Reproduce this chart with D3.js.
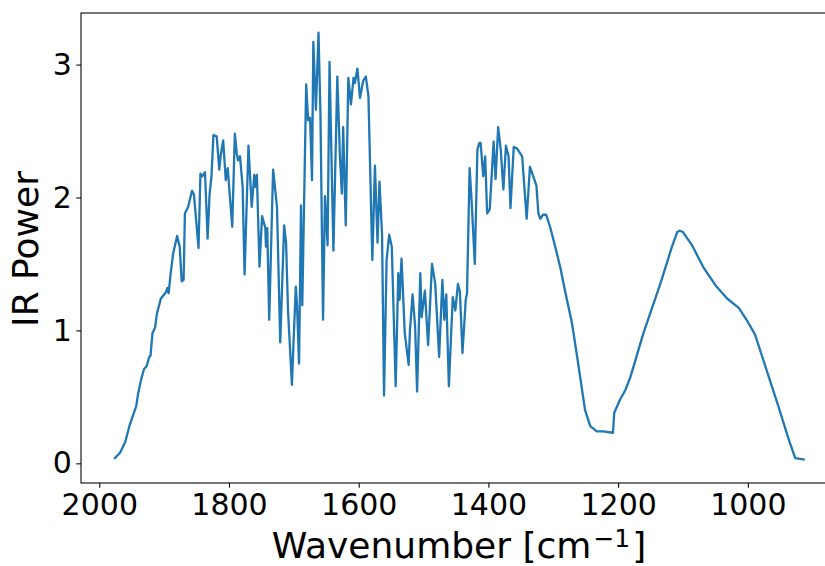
<!DOCTYPE html>
<html>
<head>
<meta charset="utf-8">
<script src="https://cdn.jsdelivr.net/npm/d3@7"></script>
<style>
  html, body { margin: 0; padding: 0; background: #fff; }
  svg { display: block; }
  text { font-family: "DejaVu Sans", sans-serif; fill: #000; }
</style>
</head>
<body>
<script>
// ---- data ----
const wavenumber = [
  1976,1968,1960,1953,1948,1943,1940,1935,1931,1927,1923,1921,1918,1914,1911,1905,1900,1897,1895,1893,
  1890,1886,1880,1876,1873,1870,1868,1863,1857,1854,1847,1844,1841,1837,1833,1830,1827,1824,1819,1815,
  1813,1809,1805,1802,1795,1791,1788,1786,1783,1779,1776,1770,1765,1761,1759,1757,1753,1749,1744,1743,
  1741,1738,1732,1726,1721,1715,1712,1709,1703,1701,1697,1695,1692,1689,1687,1681,1678,1675,1672,1670,
  1666,1662,1659,1655,1652,1648,1645,1639,1633,1629,1626,1624,1620,1616,1612,1608,1606,1602,1598,1593,
  1589,1585,1579,1575,1571,1568,1564,1561,1557,1553,1549,1543,1539,1537,1534,1529,1523,1521,1517,1513,
  1510,1505,1503,1498,1493,1487,1482,1476,1471,1468,1465,1461,1455,1451,1447,1444,1440,1435,1433,1429,
  1426,1421,1417,1414,1412,1408,1405,1402,1398,1392,1389,1385,1381,1377,1373,1369,1366,1361,1356,1348,
  1341,1336,1331,1326,1323,1320,1316,1311,1305,1297,1289,1282,1271,1261,1251,1243,1233,1223,1208,1206,
  1197,1189,1181,1161,1135,1117,1109,1105,1100,1086,1068,1050,1032,1014,1002,989,971,953,937,927,914
];
const irPower = [
  0.04,0.08,0.16,0.29,0.36,0.43,0.53,0.64,0.71,0.73,0.80,0.81,0.98,1.02,1.13,1.24,1.27,1.29,1.32,1.28,
  1.43,1.58,1.71,1.63,1.37,1.38,1.88,1.93,2.05,2.02,1.62,2.18,2.16,2.19,1.69,2.02,2.16,2.47,2.46,2.21,
  2.31,2.43,2.13,2.22,1.78,2.48,2.33,2.28,2.31,2.08,1.42,2.39,1.93,2.17,2.08,2.17,1.48,1.86,1.77,1.63,
  1.77,1.08,2.21,1.93,0.91,1.79,1.66,1.15,0.59,0.85,1.33,1.18,0.75,1.94,1.19,2.85,2.58,2.60,2.13,3.17,
  2.66,3.24,2.63,1.08,2.01,1.64,3.02,1.60,2.91,2.31,2.03,2.53,1.79,2.90,2.70,2.90,2.86,2.97,2.75,2.88,
  2.91,2.76,1.53,2.24,1.66,2.12,1.72,0.51,1.53,1.72,1.63,0.58,1.43,1.23,1.54,0.98,0.74,1.00,1.27,1.03,
  0.54,1.43,1.10,1.30,0.89,1.50,1.35,0.80,1.38,1.08,1.27,0.58,1.25,1.15,1.35,1.29,0.83,1.23,1.28,2.22,
  1.98,1.50,2.36,2.41,2.41,2.16,2.31,1.88,1.91,2.42,2.14,2.53,2.36,2.06,2.39,2.31,1.92,2.38,2.37,2.31,
  1.84,2.23,2.16,2.09,1.88,1.84,1.87,1.87,1.78,1.63,1.47,1.30,1.05,0.73,0.40,0.28,0.24,0.24,0.23,0.38,
  0.48,0.55,0.65,0.98,1.35,1.63,1.74,1.75,1.74,1.64,1.47,1.34,1.24,1.17,1.08,0.97,0.70,0.43,0.18,0.04,0.03
];
const xTicks = [2000, 1800, 1600, 1400, 1200, 1000];
const yTicks = [0, 1, 2, 3];
const xTitle = "Wavenumber [cm";
const xTitleSup = "\u22121";
const yTitle = "IR Power";

(function draw() {
  const W = 825, H = 566;
  const pL = 81, pT = 13, pR = 838, pB = 483;

  const svg = d3.select("body").append("svg").attr("width", W).attr("height", H);

  const x = d3.scaleLinear().domain([2028.2, 861]).range([pL, pR]);
  const y = d3.scaleLinear().domain([-0.148, 3.388]).range([pB, pT]);

  const xAxis = d3.axisBottom(x).tickValues(xTicks).tickFormat(d3.format("d")).tickSizeOuter(0).tickSize(4.7).tickPadding(5.5);
  const yAxis = d3.axisLeft(y).tickValues(yTicks).tickFormat(d3.format("d")).tickSizeOuter(0).tickSize(4.7).tickPadding(4.5);

  const gx = svg.append("g").attr("transform", `translate(0,${pB})`).call(xAxis);
  const gy = svg.append("g").attr("transform", `translate(${pL},0)`).call(yAxis);
  [gx, gy].forEach(g => {
    g.select(".domain").remove();
    g.selectAll(".tick line").attr("stroke", "#000").attr("stroke-width", 1.07);
    g.selectAll(".tick text").attr("font-size", 30).attr("font-family", "DejaVu Sans").attr("fill", "#000");
  });

  svg.append("rect")
    .attr("x", pL).attr("y", pT)
    .attr("width", pR - pL).attr("height", pB - pT)
    .attr("fill", "none").attr("stroke", "#000").attr("stroke-width", 1.07);

  const line = d3.line().x((d, i) => x(wavenumber[i])).y((d, i) => y(irPower[i]));
  svg.append("path")
    .datum(irPower)
    .attr("d", line)
    .attr("fill", "none")
    .attr("stroke", "#1f77b4")
    .attr("stroke-width", 2.3)
    .attr("stroke-linejoin", "round")
    .attr("stroke-linecap", "square");

  const xt = svg.append("text")
    .attr("x", 459).attr("y", 557.5)
    .attr("text-anchor", "middle").attr("font-size", 36);
  xt.append("tspan").text(xTitle);
  xt.append("tspan").attr("font-size", 25).attr("dy", -10.5).attr("dx", 2).text(xTitleSup);
  xt.append("tspan").attr("dy", 10.5).attr("dx", 2).text("]");

  svg.append("text")
    .attr("transform", `translate(37.5,249) rotate(-90)`)
    .attr("text-anchor", "middle").attr("font-size", 36)
    .text(yTitle);
})();
</script>
</body>
</html>
